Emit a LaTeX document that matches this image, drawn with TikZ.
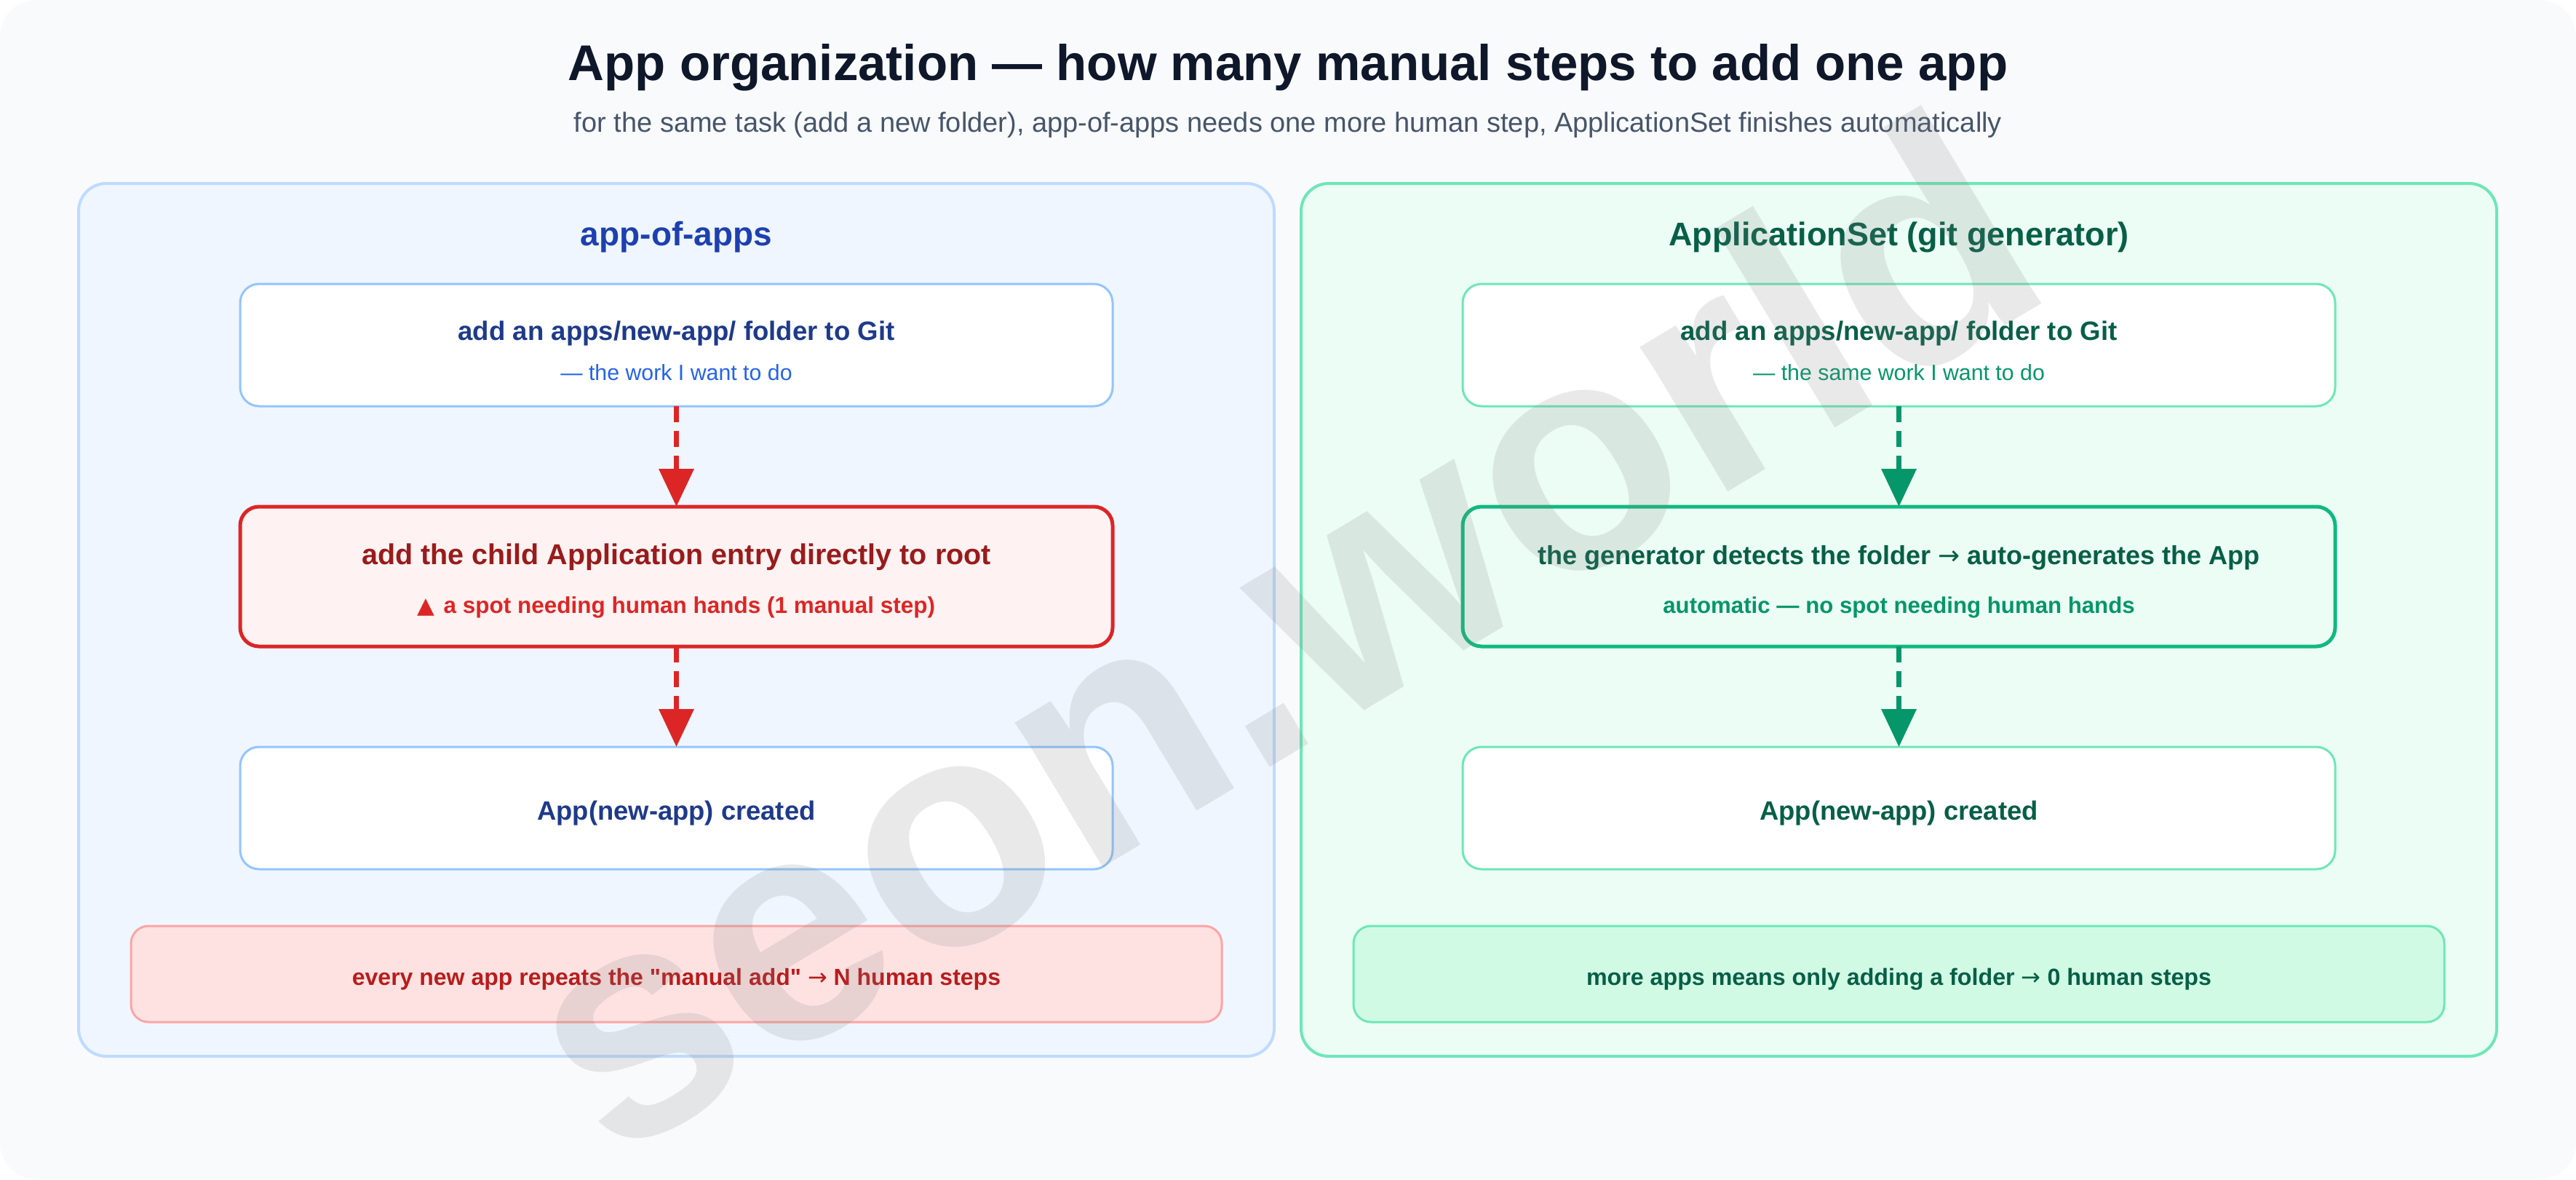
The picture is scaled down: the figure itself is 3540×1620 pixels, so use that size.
\documentclass[tikz,border=0pt]{standalone}
\usepackage{fontspec}
\setmainfont{Liberation Sans}[Ligatures=TeXOff]
\newfontfamily\symf{DejaVu Sans}
\usetikzlibrary{arrows.meta}
\definecolor{bgc}{HTML}{F8FAFC}
\definecolor{titlec}{HTML}{0F172A}
\definecolor{subc}{HTML}{475569}
\definecolor{lpfill}{HTML}{EFF6FF}
\definecolor{lpdraw}{HTML}{BFDBFE}
\definecolor{lptitle}{HTML}{1E40AF}
\definecolor{lbdraw}{HTML}{93C5FD}
\definecolor{lbtext}{HTML}{1E3A8A}
\definecolor{lbsub}{HTML}{2563EB}
\definecolor{redfill}{HTML}{FEF2F2}
\definecolor{reddraw}{HTML}{DC2626}
\definecolor{redtext}{HTML}{991B1B}
\definecolor{rnfill}{HTML}{FEE2E2}
\definecolor{rndraw}{HTML}{FCA5A5}
\definecolor{rntext}{HTML}{B91C1C}
\definecolor{rpfill}{HTML}{ECFDF5}
\definecolor{rpdraw}{HTML}{6EE7B7}
\definecolor{gtext}{HTML}{065F46}
\definecolor{gsub}{HTML}{059669}
\definecolor{gdraw}{HTML}{10B981}
\definecolor{gnfill}{HTML}{D1FAE5}
\newcommand\fs[1]{\fontsize{#1}{#1}\selectfont}
\newcommand\rarr{{\symf\mdseries →}}
\begin{document}
\begin{tikzpicture}[x=1pt,y=-1pt,
  panel/.style={draw, line width=4pt, rounded corners=38pt, minimum width=1643pt, minimum height=1199pt, inner sep=0pt, outer sep=0pt},
  box/.style={draw, line width=3pt, rounded corners=26pt, minimum width=1199pt, inner sep=0pt, outer sep=0pt},
  note/.style={draw, line width=3pt, rounded corners=24pt, minimum width=1499pt, minimum height=132pt, inner sep=0pt, outer sep=0pt},
  txt/.style={anchor=base, inner sep=0pt, outer sep=0pt},
  arr/.style={line width=7pt, dash pattern=on 22pt off 12pt, -{Triangle[length=52pt,width=47pt]}}
]
\useasboundingbox (0,0) rectangle (3540,1620);
\fill[bgc, rounded corners=50pt] (0,0) rectangle (3540,1620);

% title
\node[txt, text=titlec, font=\bfseries\fs{69}] (title) at (1770,110) {App organization — how many manual steps to add one app};
\node[txt, text=subc, font=\fs{38}] (subtitle) at (1770,181) {for the same task (add a new folder), app-of-apps needs one more human step, ApplicationSet finishes automatically};

% left panel
\node[panel, fill=lpfill, draw=lpdraw] (lp) at (929.5,851.5) {};
\node[txt, text=lptitle, font=\bfseries\fs{46}] (lpt) at (929.5,337) {app-of-apps};
\node[box, fill=white, draw=lbdraw, minimum height=168pt] (lb1) at (929.5,474) {};
\node[box, fill=redfill, draw=reddraw, line width=5pt, minimum height=192pt] (lb2) at (929.5,792) {};
\node[box, fill=white, draw=lbdraw, minimum height=168pt] (lb3) at (929.5,1110) {};
\node[note, fill=rnfill, draw=rndraw] (ln) at (929.5,1338) {};
\node[txt, text=lbtext, font=\bfseries\fs{36.6}] (lb1a) at (929.5,467) {add an apps/new-app/ folder to Git};
\node[txt, text=lbsub, font=\fs{30.3}] (lb1b) at (929.5,522) {— the work I want to do};
\node[txt, text=redtext, font=\bfseries\fs{39.5}] (lb2a) at (929.5,775) {add the child Application entry directly to root};
\node[txt, text=reddraw, font=\bfseries\fs{31.5}] (lb2b) at (929.5,842) {{\symf\fs{31}▲}\hspace{12pt}a spot needing human hands (1 manual step)};
\node[txt, text=lbtext, font=\bfseries\fs{36.4}] (lb3a) at (929.5,1126) {App(new-app) created};
\node[txt, text=rntext, font=\bfseries\fs{32}] (lna) at (929.5,1353) {every new app repeats the "manual add" \rarr{} N human steps};
\draw[arr, reddraw] (lb1.south) -- (lb2.north);
\draw[arr, reddraw] (lb2.south) -- (lb3.north);

% right panel
\node[panel, fill=rpfill, draw=rpdraw] (rp) at (2609.5,851.5) {};
\node[txt, text=gtext, font=\bfseries\fs{45}] (rpt) at (2609.5,337) {ApplicationSet (git generator)};
\node[box, fill=white, draw=rpdraw, minimum height=168pt] (rb1) at (2609.5,474) {};
\node[box, fill=rpfill, draw=gdraw, line width=5pt, minimum height=192pt] (rb2) at (2609.5,792) {};
\node[box, fill=white, draw=rpdraw, minimum height=168pt] (rb3) at (2609.5,1110) {};
\node[note, fill=gnfill, draw=rpdraw] (rn) at (2609.5,1338) {};
\node[txt, text=gtext, font=\bfseries\fs{36.6}] (rb1a) at (2609.5,467) {add an apps/new-app/ folder to Git};
\node[txt, text=gsub, font=\fs{30.3}] (rb1b) at (2609.5,522) {— the same work I want to do};
\node[txt, text=gtext, font=\bfseries\fs{36}] (rb2a) at (2609.5,775) {the generator detects the folder \rarr{} auto-generates the App};
\node[txt, text=gsub, font=\bfseries\fs{31.2}] (rb2b) at (2609.5,842) {automatic — no spot needing human hands};
\node[txt, text=gtext, font=\bfseries\fs{36.4}] (rb3a) at (2609.5,1126) {App(new-app) created};
\node[txt, text=gtext, font=\bfseries\fs{32.2}] (rna) at (2609.5,1353) {more apps means only adding a folder \rarr{} 0 human steps};
\draw[arr, gsub] (rb1.south) -- (rb2.north);
\draw[arr, gsub] (rb2.south) -- (rb3.north);

% watermark
\node[anchor=base, rotate=31, text=black!50, opacity=0.17, inner sep=0pt, font=\bfseries\fs{440}] (wm) at (1835,1000) {seon.world};
\end{tikzpicture}
\end{document}
